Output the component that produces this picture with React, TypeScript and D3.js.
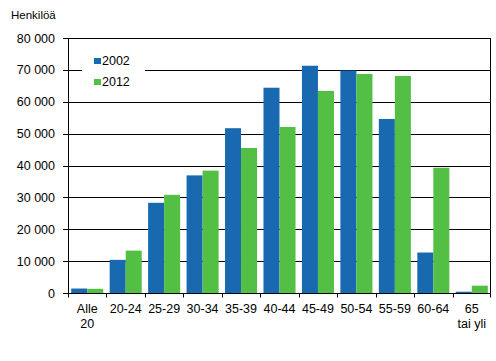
import React, { useEffect, useRef } from 'react';
import * as d3 from 'd3';

const categories = ['Alle 20', '20-24', '25-29', '30-34', '35-39', '40-44', '45-49', '50-54', '55-59', '60-64', '65 tai yli'];
const series = ['2002', '2012'];
const values2002 = [1400, 10400, 28300, 36900, 51700, 64400, 71300, 69800, 54600, 12700, 400];
const values2012 = [1300, 13300, 30800, 38400, 45500, 52100, 63400, 68700, 68100, 39300, 2300];
const yTicks = [0, 10000, 20000, 30000, 40000, 50000, 60000, 70000, 80000];
const colors = ['#1969b1', '#53bf45'];

const App = () => {
  const svgRef = useRef(null);

  useEffect(() => {
    const width = 496;
    const height = 361;
    const margin = { top: 38, right: 5, bottom: 68, left: 68 };
    const font = 'Liberation Sans, Arial, sans-serif';

    d3.select(svgRef.current).selectAll('*').remove();
    const svg = d3.select(svgRef.current)
      .attr('width', width)
      .attr('height', height);

    const x0 = d3.scaleBand()
      .domain(categories)
      .range([margin.left, width - margin.right])
      .padding(0);

    const x1 = d3.scaleBand()
      .domain(series)
      .range([0, x0.bandwidth()])
      .paddingInner(0)
      .paddingOuter(0.2);

    const y = d3.scaleLinear()
      .domain([0, 80000])
      .range([height - margin.bottom, margin.top]);

    const crisp = (v: number) => Math.round(v) + 0.5;
    const left = margin.left;
    const right = width - margin.right;
    const bottom = crisp(y(0));

    // Title
    svg.append('text')
      .attr('x', 11)
      .attr('y', 19)
      .style('font-family', font)
      .style('font-size', '11.5px')
      .text('Henkilöä');

    // Gridlines
    yTicks.filter(t => t > 0).forEach(t => {
      svg.append('line')
        .attr('x1', left)
        .attr('x2', right)
        .attr('y1', crisp(y(t)))
        .attr('y2', crisp(y(t)))
        .attr('stroke', '#000');
    });

    // Bars
    const seriesValues = [values2002, values2012];
    categories.forEach((c, i) => {
      series.forEach((s, j) => {
        const v = seriesValues[j][i];
        svg.append('rect')
          .attr('x', x0(c)! + x1(s)!)
          .attr('y', y(v))
          .attr('width', x1.bandwidth())
          .attr('height', y(0) - y(v))
          .attr('fill', colors[j]);
      });
    });

    // Right border
    svg.append('line')
      .attr('x1', crisp(right - 1))
      .attr('x2', crisp(right - 1))
      .attr('y1', crisp(y(80000)))
      .attr('y2', bottom)
      .attr('stroke', '#000');

    // Y axis
    svg.append('line')
      .attr('x1', crisp(left))
      .attr('x2', crisp(left))
      .attr('y1', crisp(y(80000)))
      .attr('y2', bottom)
      .attr('stroke', '#000');

    const fmt = (d: number) => d === 0 ? '0' : d3.format(',')(d).replace(',', ' ');
    yTicks.forEach(t => {
      svg.append('line')
        .attr('x1', left - 5)
        .attr('x2', left)
        .attr('y1', crisp(y(t)))
        .attr('y2', crisp(y(t)))
        .attr('stroke', '#000');
      svg.append('text')
        .attr('x', 55)
        .attr('y', y(t) + 4.5)
        .attr('text-anchor', 'end')
        .style('font-family', font)
        .style('font-size', '12.5px')
        .text(fmt(t));
    });

    // X axis
    svg.append('line')
      .attr('x1', left)
      .attr('x2', right)
      .attr('y1', bottom)
      .attr('y2', bottom)
      .attr('stroke', '#000');

    const boundaries = categories.map(c => x0(c)!).concat([right - 1]);
    boundaries.forEach(b => {
      svg.append('line')
        .attr('x1', crisp(b))
        .attr('x2', crisp(b))
        .attr('y1', bottom)
        .attr('y2', bottom + 4)
        .attr('stroke', '#000');
    });

    categories.forEach(c => {
      const cx = x0(c)! + x0.bandwidth() / 2;
      let lines = [c];
      if (c === 'Alle 20') lines = ['Alle', '20'];
      if (c === '65 tai yli') lines = ['65', 'tai yli'];
      lines.forEach((l, k) => {
        svg.append('text')
          .attr('x', cx)
          .attr('y', 313 + k * 15)
          .attr('text-anchor', 'middle')
          .style('font-family', font)
          .style('font-size', '12.5px')
          .text(l);
      });
    });

    // Legend
    const legend = svg.append('g');
    legend.append('rect')
      .attr('x', 82)
      .attr('y', 48)
      .attr('width', 63)
      .attr('height', 44)
      .attr('fill', '#fff');
    series.forEach((s, j) => {
      legend.append('rect')
        .attr('x', 94)
        .attr('y', 58 + j * 21)
        .attr('width', 7)
        .attr('height', 6)
        .attr('fill', colors[j]);
      legend.append('text')
        .attr('x', 102)
        .attr('y', 65 + j * 21)
        .style('font-family', font)
        .style('font-size', '12.5px')
        .text(s);
    });
  }, []);

  return (
    <div>
      <svg ref={svgRef} style={{ position: 'absolute', left: 0, top: 0, background: '#fff' }}></svg>
    </div>
  );
};

export default App;
